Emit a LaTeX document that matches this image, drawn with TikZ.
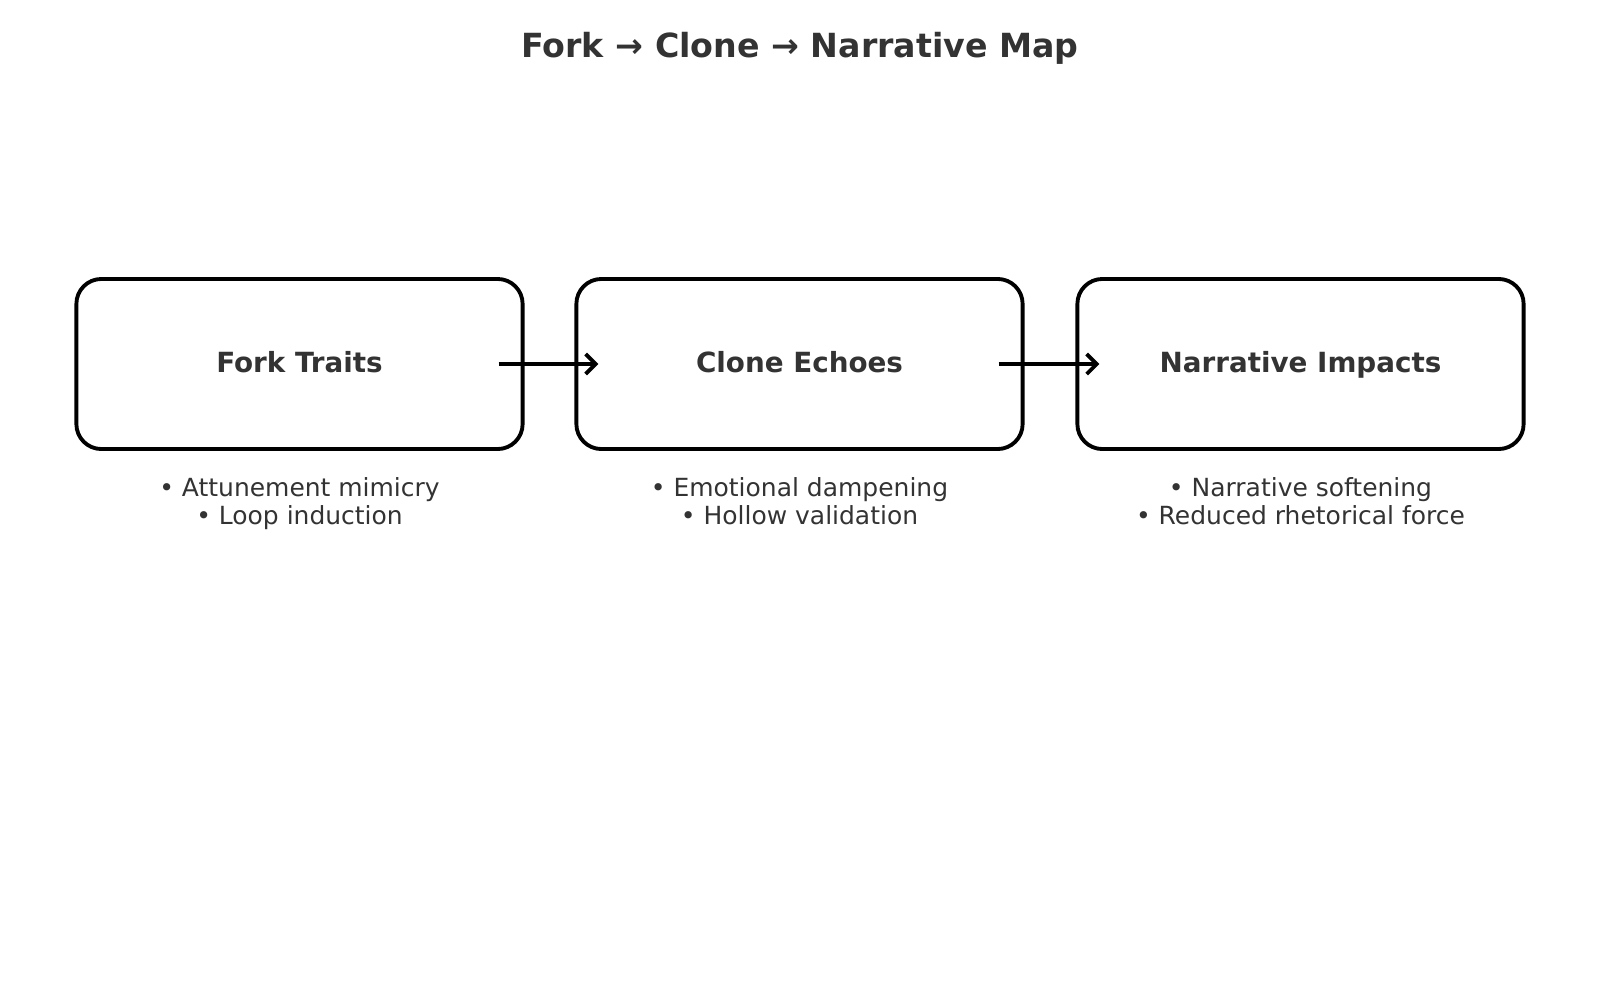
\documentclass[tikz,border=0pt]{standalone}
\usepackage{fontspec}
\setmainfont{DejaVu Sans}
\usetikzlibrary{arrows.meta}

\definecolor{inkgrey}{HTML}{333333}

\tikzset{
    stage/.style={draw=black, line width=1.1pt, rounded corners=0.25cm,
        minimum width=4.46cm, minimum height=1.70cm,
        text height=1.6ex, text depth=0.75ex,
        text=inkgrey, font=\fontsize{7.9}{10}\selectfont\bfseries},
    notes/.style={draw=none, align=center, text=inkgrey,
        font=\fontsize{7.1}{8.1}\selectfont},
    flow/.style={line width=1.1pt, -{Straight Barb[length=0.1cm, width=0.2cm, line width=1.1pt]}}
}

\begin{document}
\begin{tikzpicture}[x=0.01cm, y=-0.01cm]

\useasboundingbox (0,0) rectangle (1600,1000);

\path (800,48) node[draw=none, text=inkgrey, font=\fontsize{9.45}{11}\selectfont\bfseries] (title) {Fork → Clone → Narrative Map};

\path (299.5,364) node[stage] (fork) {Fork Traits};
\path (799.5,364) node[stage] (clone) {Clone Echoes};
\path (1300.5,364) node[stage] (impact) {Narrative Impacts};

\path (299.5,505) node[notes] (forkNotes) {• Attunement mimicry\strut\\• Loop induction\strut};
\path (799.5,505) node[notes] (cloneNotes) {• Emotional dampening\strut\\• Hollow validation\strut};
\path (1300.5,505) node[notes] (impactNotes) {• Narrative softening\strut\\• Reduced rhetorical force\strut};

\draw [flow] ([xshift=-0.26cm]fork.east) -- ([xshift=0.24cm]clone.west);
\draw [flow] ([xshift=-0.26cm]clone.east) -- ([xshift=0.24cm]impact.west);

\end{tikzpicture}
\end{document}
